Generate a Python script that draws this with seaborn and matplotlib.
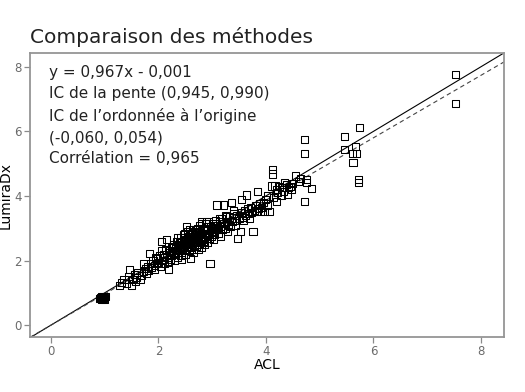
import matplotlib
matplotlib.use("Agg")
import numpy as np
import pandas as pd
import seaborn as sns
import matplotlib.pyplot as plt

acl = [
    0.90, 0.92, 0.94, 0.95, 0.96, 0.97, 0.98, 1.00, 0.93, 0.99,
    1.02, 1.28, 1.31, 1.36, 1.41, 1.45, 1.47, 1.50, 1.52, 1.55,
    1.58, 1.60, 1.62, 1.66, 1.68, 1.72, 1.73, 1.76, 1.78, 1.80,
    1.82, 1.84, 1.86, 1.88, 1.90, 1.92, 1.93, 1.95, 1.97, 1.98,
    2.00, 2.02, 2.04, 2.05, 2.06, 2.08, 2.10, 2.12, 2.14, 2.15,
    2.16, 2.18, 2.18, 2.20, 2.22, 2.24, 2.25, 2.27, 2.28, 2.30,
    2.31, 2.32, 2.34, 2.35, 2.36, 2.38, 2.40, 2.41, 2.42, 2.43,
    2.44, 2.45, 2.46, 2.48, 2.50, 2.51, 2.52, 2.52, 2.54, 2.55,
    2.56, 2.57, 2.58, 2.59, 2.60, 2.61, 2.62, 2.63, 2.64, 2.65,
    2.66, 2.67, 2.68, 2.70, 2.71, 2.72, 2.73, 2.74, 2.75, 2.76,
    2.78, 2.79, 2.80, 2.81, 2.82, 2.84, 2.85, 2.86, 2.87, 2.88,
    2.90, 2.91, 2.92, 2.93, 2.94, 2.96, 2.97, 2.98, 3.00, 3.01,
    3.02, 3.04, 3.05, 3.06, 3.08, 3.09, 3.10, 3.12, 3.14, 3.15,
    3.16, 3.18, 3.20, 3.21, 3.22, 3.24, 3.25, 3.27, 3.28, 3.30,
    3.32, 3.34, 3.36, 3.38, 3.40, 3.42, 3.44, 3.46, 3.48, 3.50,
    3.52, 3.54, 3.55, 3.56, 3.58, 3.60, 3.62, 3.64, 3.65, 3.68,
    3.70, 3.72, 3.74, 3.76, 3.78, 3.80, 3.83, 3.84, 3.86, 3.89,
    3.89, 3.92, 3.95, 3.98, 4.00, 4.02, 4.04, 4.07, 4.10, 4.12,
    4.12, 4.14, 4.17, 4.19, 4.20, 4.22, 4.25, 4.29, 4.30, 4.32,
    4.35, 4.38, 4.40, 4.42, 4.45, 4.48, 4.50, 4.55, 4.60, 4.65,
    4.71, 4.71, 4.71, 4.76, 4.76, 4.85, 5.47, 5.47, 5.61, 5.62,
    5.67, 5.69, 5.72, 5.72, 5.74, 7.53, 7.53,
    2.21, 2.23, 2.26, 2.29, 2.33, 2.37, 2.39, 2.44, 2.47, 2.49,
    2.53, 2.56, 2.59, 2.61, 2.64, 2.67, 2.69, 2.72, 2.74, 2.77,
    2.79, 2.83, 2.86, 2.89, 2.92, 2.95, 2.99, 3.03, 3.07, 3.11,
    2.35, 2.48, 2.58, 2.70, 2.80, 2.90, 3.00, 3.13, 3.26, 3.40,
]

lumira = [
    0.82, 0.86, 0.80, 0.88, 0.84, 0.90, 0.82, 0.86, 0.84, 0.79,
    0.88, 1.24, 1.32, 1.42, 1.30, 1.50, 1.71, 1.24, 1.40, 1.58,
    1.35, 1.48, 1.62, 1.40, 1.55, 1.91, 1.66, 1.75, 1.60, 1.82,
    1.70, 2.22, 1.92, 1.78, 2.00, 1.85, 1.71, 2.10, 1.90, 2.05,
    1.95, 2.15, 1.82, 2.30, 2.58, 2.00, 2.20, 1.90, 2.35, 2.64,
    2.10, 1.71, 1.96, 2.25, 2.05, 2.40, 2.15, 2.30, 2.50, 2.00,
    2.20, 2.45, 2.60, 2.10, 2.35, 2.25, 2.55, 2.70, 2.15, 2.02,
    2.40, 2.30, 2.80, 2.50, 2.20, 2.65, 3.05, 2.35, 2.90, 2.45,
    2.60, 2.75, 2.30, 2.06, 2.50, 2.85, 2.40, 2.95, 2.55, 2.70,
    2.25, 2.90, 2.60, 2.45, 2.80, 3.00, 2.55, 2.35, 2.70, 3.10,
    2.60, 2.85, 2.40, 3.15, 2.75, 2.95, 2.50, 2.65, 3.15, 2.80,
    3.00, 2.70, 2.55, 3.20, 2.85, 1.91, 3.05, 2.75, 2.90, 3.10,
    2.65, 3.00, 2.80, 3.25, 2.95, 3.72, 3.10, 2.85, 3.20, 3.05,
    2.75, 3.30, 2.95, 3.72, 3.15, 3.00, 3.40, 3.20, 2.90, 3.10,
    3.35, 3.05, 3.80, 3.20, 3.45, 3.25, 3.10, 3.40, 2.68, 3.30,
    2.89, 3.50, 3.88, 3.35, 3.25, 3.55, 3.40, 4.03, 3.60, 3.45,
    3.30, 3.65, 3.50, 2.91, 3.55, 3.70, 3.52, 4.13, 3.60, 3.52,
    3.77, 3.65, 3.80, 3.52, 3.90, 3.70, 4.00, 3.52, 4.31, 4.68,
    4.83, 3.95, 4.31, 3.82, 4.20, 4.10, 4.30, 4.03, 4.25, 4.15,
    4.41, 4.35, 4.05, 4.25, 4.30, 4.20, 4.40, 4.62, 4.45, 4.55,
    5.74, 5.32, 3.83, 4.52, 4.41, 4.23, 5.84, 5.45, 5.32, 5.03,
    5.53, 5.32, 4.52, 4.41, 6.13, 7.75, 6.85,
    2.30, 2.15, 2.45, 2.20, 2.30, 2.50, 2.35, 2.60, 2.45, 2.70,
    2.50, 2.40, 2.65, 2.35, 2.80, 2.55, 2.75, 2.65, 2.90, 2.50,
    2.70, 2.60, 2.95, 2.80, 3.05, 2.70, 3.00, 2.90, 3.15, 2.95,
    2.70, 2.85, 2.95, 2.95, 3.20, 3.20, 3.15, 3.30, 3.35, 3.55,
]

slope = 0.967
intercept = -0.001
title = "Comparaison des méthodes"
stats_text = ("y = 0,967x - 0,001\n"
              "IC de la pente (0,945, 0,990)\n"
              "IC de l\u2019ordonnée à l\u2019origine\n"
              "(-0,060, 0,054)\n"
              "Corrélation = 0,965")
x_ticks = [0, 2, 4, 6, 8]
y_ticks = [0, 2, 4, 6, 8]

sns.set_theme(style="white")
plt.rcParams['font.family'] = ['DejaVu Sans']

df = pd.DataFrame({"ACL": acl, "LumiraDx": lumira})

fig = plt.figure(figsize=(5.25, 3.92), dpi=100)
ax = fig.add_axes([0.057, 0.140, 0.903, 0.725])

xlim = (-0.39, 8.43)
ylim = (-0.37, 8.43)

sns.scatterplot(data=df, x="ACL", y="LumiraDx", marker="s", s=26,
                facecolors="none", edgecolor="black", linewidth=0.75,
                ax=ax, zorder=3)

lx = np.array([xlim[0], xlim[1]])
sns.lineplot(x=lx, y=lx, color="black", linewidth=0.8, ax=ax, zorder=2)
ax.plot(lx, slope * lx + intercept, color="#444444", linewidth=0.8,
        linestyle=(0, (4, 3)), zorder=2)

ax.set_xlim(*xlim)
ax.set_ylim(*ylim)
ax.set_xticks(x_ticks)
ax.set_yticks(y_ticks)

for sp in ax.spines.values():
    sp.set_visible(True)
    sp.set_color("#959595")
    sp.set_linewidth(1.3)

ax.tick_params(axis="both", which="both", length=4, width=0.9, color="#8a8a8a",
               labelcolor="#6b6b6b", labelsize=8.5, direction="out",
               bottom=True, left=True, pad=2)

ax.set_xlabel("ACL", fontsize=10, color="black", labelpad=0)
ax.set_ylabel("LumiraDx", fontsize=10, color="black", labelpad=1)

ax.text(0.04, 0.958, stats_text, transform=ax.transAxes, va="top", ha="left",
        fontsize=11, linespacing=1.52, color="#222222")

fig.text(0.057, 0.905, title, fontsize=14.5, ha="left", va="center", color="#222222")

fig.savefig("out.png", dpi=100)
